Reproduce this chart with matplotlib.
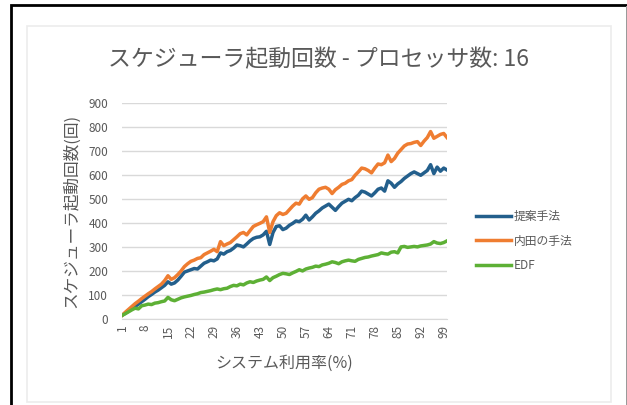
import matplotlib.pyplot as plt
from matplotlib.patches import Rectangle
from matplotlib.lines import Line2D

plt.rcParams['font.family'] = ['Noto Sans CJK JP', 'DejaVu Sans']

# 利用率 1〜100% ごとのスケジューラ起動回数
utilization = list(range(1, 101))

proposed = [15, 24, 33, 42, 52, 62, 72, 82, 93, 102,
            112, 120, 130, 140, 155, 145, 150, 162, 178, 195,
            200, 205, 210, 208, 220, 232, 238, 245, 242, 250,
            275, 270, 280, 285, 295, 308, 305, 300, 312, 325,
            335, 340, 342, 350, 365, 310, 360, 385, 388, 372,
            378, 390, 398, 408, 405, 415, 432, 412, 425, 440,
            450, 462, 470, 478, 465, 452, 468, 482, 490, 498,
            492, 505, 515, 532, 528, 520, 512, 525, 540, 545,
            532, 575, 565, 548, 562, 572, 585, 595, 605, 612,
            605, 598, 608, 618, 642, 605, 632, 615, 628, 620]

uchida = [15, 28, 40, 52, 64, 74, 85, 95, 105, 114,
          125, 135, 145, 160, 180, 165, 172, 185, 200, 218,
          230, 240, 245, 252, 255, 268, 275, 282, 290, 280,
          322, 305, 312, 318, 330, 342, 355, 360, 350, 368,
          385, 392, 398, 405, 425, 360, 405, 430, 442, 435,
          440, 455, 470, 482, 478, 500, 512, 498, 505, 525,
          540, 545, 548, 540, 522, 538, 548, 560, 565, 575,
          580, 598, 612, 628, 625, 618, 608, 628, 645, 642,
          650, 682, 655, 668, 690, 705, 720, 728, 730, 735,
          738, 722, 740, 755, 780, 752, 760, 768, 772, 755]

edf = [15, 22, 30, 38, 45, 42, 55, 58, 62, 60,
       66, 68, 72, 75, 90, 80, 76, 82, 88, 92,
       95, 98, 102, 105, 110, 112, 115, 118, 122, 125,
       122, 126, 128, 135, 140, 138, 145, 142, 150, 155,
       152, 158, 162, 165, 175, 160, 172, 178, 185, 190,
       188, 185, 192, 198, 205, 200, 208, 212, 215, 220,
       218, 225, 228, 232, 238, 235, 230, 238, 242, 245,
       242, 240, 248, 252, 256, 258, 262, 265, 268, 275,
       272, 270, 278, 280, 275, 300, 302, 298, 300, 302,
       300, 304, 306, 308, 312, 322, 316, 314, 318, 325]

series_names = ['提案手法', '内田の手法', 'EDF']
series_colors = ['#235f8c', '#ef7d31', '#5db035']
xtick_labels = list(range(1, 101, 7))
ytick_values = list(range(0, 1000, 100))

text_gray = '#595959'
grid_gray = '#d9d9d9'

fig = plt.figure(figsize=(6.27, 4.05), dpi=100)

# 外枠とグラフエリアの枠
fig.patches.append(Rectangle((11 / 627, -0.01), 1.2, 1 - 5 / 405 + 0.01,
                             transform=fig.transFigure, fill=False,
                             edgecolor='black', lw=2))
fig.patches.append(Rectangle((626 / 627, 0), 0.01, 1 - 6 / 405,
                             transform=fig.transFigure, facecolor='#9a9a9a',
                             edgecolor='none'))
fig.patches.append(Rectangle((27 / 627, 1 - 402 / 405), 584 / 627, 376 / 405,
                             transform=fig.transFigure, fill=False,
                             edgecolor='#ececec', lw=1.2))

ax = fig.add_axes([122 / 627, 1 - 319 / 405, 325 / 627, (319 - 102.7) / 405])

for vals, name, col in zip([proposed, uchida, edf], series_names, series_colors):
    ax.plot(utilization, vals, color=col, lw=2.5, label=name,
            solid_joinstyle='round')

ax.set_xlim(1, 100)
ax.set_ylim(0, 900)
ax.set_yticks(ytick_values)
ax.set_xticks(xtick_labels)
ax.set_xticklabels([str(v) for v in xtick_labels], rotation=90)
ax.grid(axis='y', color=grid_gray, lw=1)
ax.set_axisbelow(True)
for side in ['top', 'right', 'left']:
    ax.spines[side].set_visible(False)
ax.spines['bottom'].set_color(grid_gray)
ax.tick_params(axis='both', length=0, colors=text_gray, labelsize=8.5)
ax.tick_params(axis='y', pad=10)
ax.tick_params(axis='x', pad=4)

ax.set_xlabel('システム利用率(%)', color=text_gray, fontsize=11.5, labelpad=12)
ax.set_ylabel('スケジューラ起動回数(回)', color=text_gray, fontsize=12, labelpad=6)

fig.text(318 / 627, 1 - 60 / 405, 'スケジューラ起動回数 - プロセッサ数: 16',
         ha='center', va='center', fontsize=16.5, color=text_gray)

handles = [Line2D([], [], color=c, lw=2.5) for c in series_colors]
leg = fig.legend(handles, series_names, loc='center left',
                 bbox_to_anchor=(465 / 627, 1 - 241 / 405), frameon=False,
                 fontsize=8.5, handlelength=3.0, handletextpad=0.2,
                 labelspacing=1.0, labelcolor=text_gray)

fig.savefig('out.png', dpi=100)
